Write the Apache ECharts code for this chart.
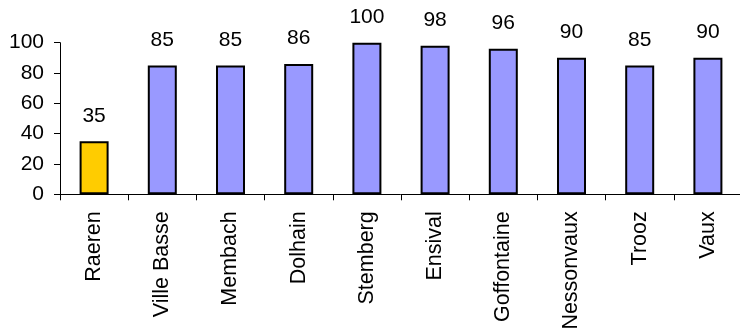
<!DOCTYPE html>
<html>
<head>
<meta charset="utf-8">
<script src="https://cdn.jsdelivr.net/npm/echarts@6/dist/echarts.min.js"></script>
<style>
  html, body { margin: 0; padding: 0; background: #fff; }
  #chart { width: 740px; height: 328px; }
</style>
</head>
<body>
<div id="chart"></div>
<script>
// Station names along the river
const categories = ['Raeren', 'Ville Basse', 'Membach', 'Dolhain', 'Stemberg', 'Ensival', 'Goffontaine', 'Nessonvaux', 'Trooz', 'Vaux'];
// Score per station
const values = [35, 85, 85, 86, 100, 98, 96, 90, 85, 90];
// Y axis scale
const yMin = 0, yMax = 100, yStep = 20;

const highlightColor = '#FFCC00';
const baseColor = '#9999FF';
const font = 'Liberation Sans, Arial, sans-serif';

const chart = echarts.init(document.getElementById('chart'));
chart.setOption({
  animation: false,
  backgroundColor: '#ffffff',
  grid: { left: 60, top: 42.7, width: 682, height: 151.6, containLabel: false, outerBoundsMode: 'none' },
  xAxis: {
    type: 'category',
    data: categories,
    axisLine: { lineStyle: { color: '#000', width: 1 } },
    axisTick: { show: true, length: 6, alignWithLabel: false, lineStyle: { color: '#000' } },
    axisLabel: { rotate: 90, margin: 17, color: '#000', fontSize: 21.5, fontFamily: font, interval: 0 }
  },
  yAxis: {
    type: 'value',
    min: yMin, max: yMax, interval: yStep,
    axisLine: { show: true, lineStyle: { color: '#000', width: 1 } },
    axisTick: { show: true, length: 6, lineStyle: { color: '#000' } },
    splitLine: { show: false },
    axisLabel: { margin: 16, color: '#000', fontSize: 21, fontFamily: font }
  },
  series: [{
    type: 'bar',
    barWidth: 29,
    data: values.map((v, i) => ({
      value: v,
      itemStyle: { color: i === 0 ? highlightColor : baseColor }
    })),
    itemStyle: { borderColor: '#000', borderWidth: 2 },
    label: { show: true, position: 'top', distance: 15, color: '#000', fontSize: 21, fontFamily: font }
  }]
});
</script>
</body>
</html>
